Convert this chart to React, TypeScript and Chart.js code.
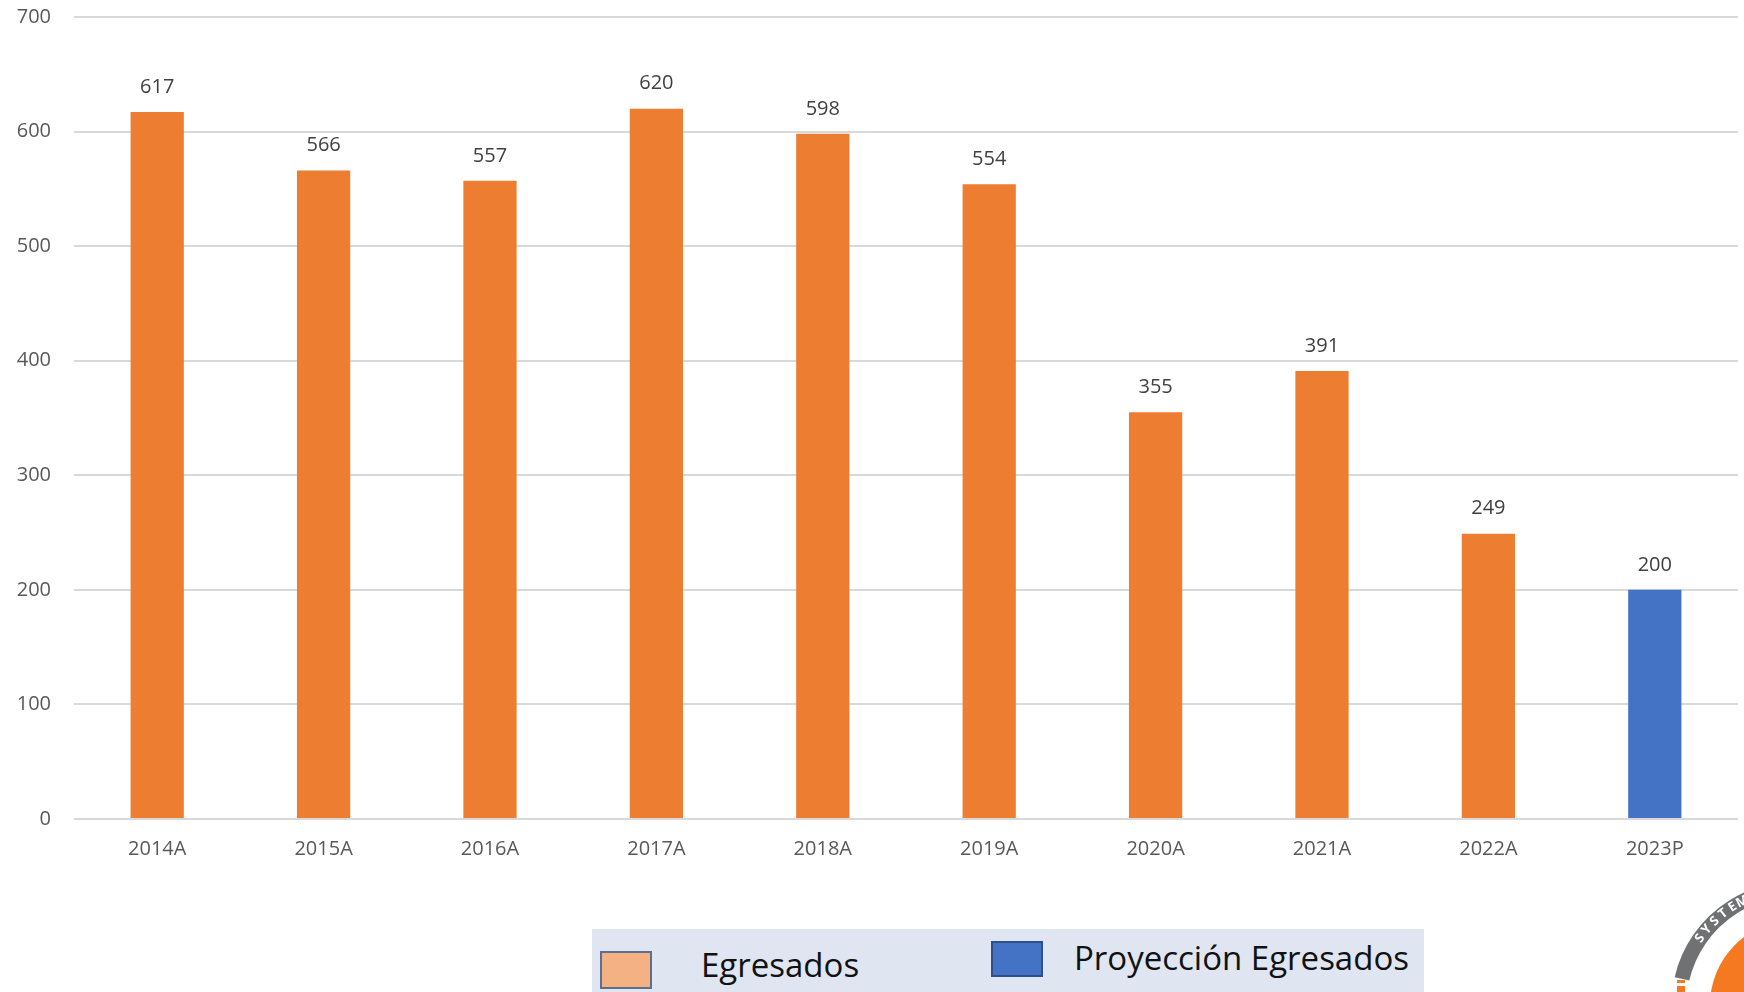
import React, { useEffect, useRef } from "react";
import { Chart, registerables } from "chart.js";

Chart.register(...registerables);

const categories = ["2014A", "2015A", "2016A", "2017A", "2018A", "2019A", "2020A", "2021A", "2022A", "2023P"];
const egresados = [617, 566, 557, 620, 598, 554, 355, 391, 249, null];
const proyeccion = [null, null, null, null, null, null, null, null, null, 200];
const yTicks = [0, 100, 200, 300, 400, 500, 600, 700];

const FONT = "'Open Sans', 'DejaVu Sans', sans-serif";

const dataLabels = {
  id: "dataLabels",
  afterDatasetsDraw(chart: any) {
    const ctx = chart.ctx;
    ctx.save();
    ctx.font = `20px ${FONT}`;
    ctx.fillStyle = "#404040";
    ctx.textAlign = "center";
    ctx.textBaseline = "bottom";
    chart.data.datasets.forEach((ds: any, di: number) => {
      const meta = chart.getDatasetMeta(di);
      meta.data.forEach((bar: any, i: number) => {
        const v = ds.data[i];
        if (v === null || v === undefined) return;
        ctx.fillText(String(v), bar.x, bar.y - 15);
      });
    });
    ctx.restore();
  },
};

const logo = {
  id: "logo",
  afterDraw(chart: any) {
    const ctx = chart.ctx;
    const cx = 1795, cy = 1005;
    ctx.save();
    ctx.beginPath();
    ctx.arc(cx, cy, 116, (193 * Math.PI) / 180, (335 * Math.PI) / 180);
    ctx.lineWidth = 15;
    ctx.strokeStyle = "#707172";
    ctx.stroke();
    ctx.beginPath();
    ctx.arc(cx, cy, 85, 0, Math.PI * 2);
    ctx.fillStyle = "#f47920";
    ctx.fill();
    const word = "SYSTEM";
    ctx.font = `bold 13px ${FONT}`;
    ctx.fillStyle = "#ffffff";
    ctx.textAlign = "center";
    ctx.textBaseline = "middle";
    for (let i = 0; i < word.length; i++) {
      const a = ((215 + i * 5.6) * Math.PI) / 180;
      ctx.save();
      ctx.translate(cx + 116 * Math.cos(a), cy + 116 * Math.sin(a));
      ctx.rotate(a + Math.PI / 2);
      ctx.fillText(word[i], 0, 0);
      ctx.restore();
    }
    ctx.fillStyle = "#f47920";
    ctx.fillRect(1677, 980, 8, 3);
    ctx.fillRect(1677, 986, 8, 6);
    ctx.restore();
  },
};

export default function App() {
  const ref = useRef<HTMLCanvasElement | null>(null);
  useEffect(() => {
    if (!ref.current) return;
    const chart = new Chart(ref.current, {
      type: "bar",
      data: {
        labels: categories,
        datasets: [
          {
            label: "Egresados",
            data: egresados as any,
            backgroundColor: "#ED7D31",
            categoryPercentage: 1,
            barPercentage: 0.32,
          },
          {
            label: "Proyección Egresados",
            data: proyeccion as any,
            backgroundColor: "#4472C4",
            categoryPercentage: 1,
            barPercentage: 0.32,
          },
        ],
      },
      options: {
        responsive: false,
        animation: false,
        devicePixelRatio: 1,
        layout: { padding: { top: 17, right: 6, left: 0, bottom: 0 } },
        plugins: { legend: { display: false }, tooltip: { enabled: false } },
        scales: {
          x: {
            stacked: true,
            grid: { display: false, drawTicks: false },
            border: { display: false },
            ticks: { color: "#595959", font: { family: FONT, size: 20 }, padding: 18 },
            afterFit(scale: any) {
              scale.height = 173;
            },
          },
          y: {
            stacked: true,
            min: 0,
            max: 700,
            afterBuildTicks(scale: any) {
              scale.ticks = yTicks.map((v) => ({ value: v }));
            },
            grid: { color: "#d9d9d9", lineWidth: 2, drawTicks: false },
            border: { display: false },
            ticks: { color: "#595959", font: { family: FONT, size: 20 }, padding: 23 },
            afterFit(scale: any) {
              scale.width = 74;
              scale.paddingTop = 0;
            },
          },
        },
      },
      plugins: [dataLabels, logo],
    });
    return () => chart.destroy();
  }, []);

  return (
    <div style={{ position: "fixed", left: 0, top: 0, width: 1744, height: 992, background: "#ffffff", overflow: "hidden" }}>
      <canvas ref={ref} width={1744} height={992} style={{ position: "absolute", left: 0, top: 0 }} />
      <div style={{ position: "absolute", left: 592, top: 929, width: 832, height: 63, background: "#dfe6f2" }} />
      <div style={{ position: "absolute", left: 600, top: 951, width: 48, height: 34, background: "#F4B183", border: "2px solid #5b6f8f" }} />
      <div style={{ position: "absolute", left: 701, top: 944, fontFamily: FONT, fontSize: 33, lineHeight: "42px", color: "#111111" }}>Egresados</div>
      <div style={{ position: "absolute", left: 991, top: 941, width: 48, height: 32, background: "#4472C4", border: "2px solid #2f4f8a" }} />
      <div style={{ position: "absolute", left: 1074, top: 937, fontFamily: FONT, fontSize: 33, lineHeight: "42px", color: "#111111" }}>Proyección Egresados</div>
    </div>
  );
}
